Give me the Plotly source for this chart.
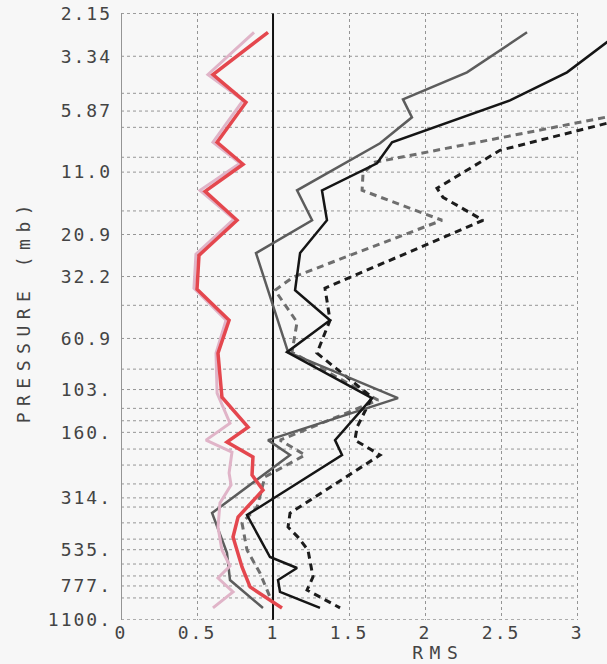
import plotly.graph_objects as go

# ---------------- data ----------------
grid_levels = [2.15, 3.34, 4.89, 5.87, 6.94, 9.44, 11.0, 16.4, 20.9, 32.2, 43.3, 60.9,
               83.5, 103, 125, 142, 160, 190, 224, 272, 314, 345, 406, 480, 535, 620,
               701, 777, 879, 1100]
ytick_vals = [2.15, 3.34, 5.87, 11.0, 20.9, 32.2, 60.9, 103, 160, 314, 535, 777, 1100]
ytick_text = ["2.15", "3.34", "5.87", "11.0", "20.9", "32.2", "60.9", "103.", "160.",
              "314.", "535.", "777.", "1100."]
xtick_vals = [0, 0.5, 1, 1.5, 2, 2.5, 3]
xtick_text = ["0", "0.5", "1", "1.5", "2", "2.5", "3"]

red_p = [2.61, 4.03, 5.37, 8.09, 10.15, 13.4, 18.05, 25.9, 36.7, 50.5, 70.8, 111.4, 151.6,
         176.8, 206.3, 248.3, 289.6, 382.3, 469.6, 639.2, 785, 974]
red_v = [0.967, 0.605, 0.822, 0.632, 0.803, 0.553, 0.763, 0.513, 0.500, 0.711, 0.638, 0.664,
         0.836, 0.697, 0.868, 0.862, 0.934, 0.770, 0.737, 0.796, 0.849, 1.059]

pink_p = [2.61, 4.03, 5.26, 8.09, 10.05, 13.27, 17.86, 25.6, 36.3, 50.5, 70.8, 106.9, 145.5,
          173.3, 196, 243, 275, 331, 424, 537, 633, 716, 826, 974]
pink_v = [0.875, 0.572, 0.803, 0.605, 0.783, 0.520, 0.743, 0.493, 0.480, 0.691, 0.625, 0.632,
          0.717, 0.559, 0.730, 0.711, 0.724, 0.651, 0.638, 0.664, 0.717, 0.638, 0.737, 0.605]

gray_p = [2.61, 3.15, 3.94, 5.20, 6.26, 8.18, 13.27, 18.05, 25.3, 70.1, 112.5, 173.3, 202,
          367, 499, 553, 731, 974]
gray_v = [2.671, 2.493, 2.276, 1.855, 1.914, 1.704, 1.158, 1.257, 0.888, 1.099, 1.822, 0.967,
          1.112, 0.599, 0.671, 0.697, 0.717, 0.934]

black_p = [2.61, 3.94, 5.26, 8.09, 10.05, 13.27, 18.05, 25.3, 37.1, 50.5, 70.1, 112.5, 173.3,
           202, 374.5, 577, 646, 731, 826, 974]
black_v = [3.283, 2.934, 2.559, 1.783, 1.684, 1.322, 1.355, 1.178, 1.145, 1.375, 1.092, 1.651,
           1.408, 1.454, 0.829, 0.980, 1.158, 1.033, 1.046, 1.309]

gdash_p = [2.61, 9.94, 11.13, 13.27, 18.05, 32.4, 37.1, 51.5, 70.1, 114.9, 173.3, 202, 253,
           345, 407, 537, 680, 870]
gdash_v = [6.05, 1.671, 1.592, 1.586, 2.112, 1.132, 1.013, 1.158, 1.125, 1.691, 1.046, 1.211,
           0.947, 0.895, 0.796, 0.829, 0.914, 0.980]

bdash_p = [2.61, 8.79, 12.99, 14.25, 18.05, 36.3, 50.5, 70.8, 111.4, 151.6, 173.3, 202, 367,
           424, 470, 537, 708, 810, 974]
bdash_v = [5.566, 2.493, 2.079, 2.118, 2.382, 1.342, 1.375, 1.289, 1.651, 1.553, 1.539, 1.704,
           1.112, 1.099, 1.164, 1.230, 1.263, 1.224, 1.441]

ref_v = [1, 1]
ref_p = [2.15, 1100]

# ---------------- figure ----------------
fig = go.Figure()

gx, gy = [], []
for lv in grid_levels:
    gx += [0, 3, None]
    gy += [lv, lv, None]
fig.add_trace(go.Scatter(x=gx, y=gy, mode="lines", hoverinfo="skip",
                         line=dict(color="#959595", width=1, dash="dot")))

fig.add_trace(go.Scatter(x=ref_v, y=ref_p, mode="lines",
                         line=dict(color="#111111", width=2)))

fig.add_trace(go.Scatter(x=gdash_v, y=gdash_p, mode="lines",
                         line=dict(color="#6e6e6e", width=3, dash="7px,5px")))
fig.add_trace(go.Scatter(x=bdash_v, y=bdash_p, mode="lines",
                         line=dict(color="#1c1c1c", width=3, dash="7px,5px")))
fig.add_trace(go.Scatter(x=gray_v, y=gray_p, mode="lines",
                         line=dict(color="#5c5c5c", width=2.5)))
fig.add_trace(go.Scatter(x=black_v, y=black_p, mode="lines",
                         line=dict(color="#151515", width=2.5)))
fig.add_trace(go.Scatter(x=pink_v, y=pink_p, mode="lines",
                         line=dict(color="#e0b4c8", width=3)))
fig.add_trace(go.Scatter(x=red_v, y=red_p, mode="lines",
                         line=dict(color="#e4474e", width=3.5)))

font = dict(family="DejaVu Sans Mono", size=18, color="#444444")

fig.update_layout(
    width=607, height=664,
    margin=dict(l=121, r=0, t=13, b=44),
    paper_bgcolor="#f7f7f7", plot_bgcolor="#f7f7f7",
    showlegend=False,
    font=font,
    xaxis=dict(range=[0, 3.197], tickvals=xtick_vals, ticktext=xtick_text,
               showgrid=True, gridcolor="#959595", griddash="dot", gridwidth=1,
               zeroline=True, zerolinecolor="#959595", zerolinewidth=1,
               ticks="", ticklabelstandoff=0, tickfont=font, showline=False),
    yaxis=dict(type="log", range=[3.0425, 0.3305], autorange=False,
               tickvals=ytick_vals, ticktext=ytick_text,
               showgrid=False, zeroline=False, ticks="", ticklabelstandoff=8,
               tickfont=font, showline=False),
    annotations=[
        dict(text="PRESSURE (mb)", xref="paper", yref="paper", x=-0.2016, y=0.509,
             xanchor="center", yanchor="middle",
             textangle=-90, showarrow=False, font=font),
        dict(text="RMS", xref="x", yref="paper", x=2.09, y=-0.053,
             xanchor="center", yanchor="middle",
             showarrow=False, font=font),
    ],
)

post = """
var s = document.createElement('style');
s.innerHTML = 'html, body {margin:0; padding:0; background:#f7f7f7; overflow:hidden;} .xtick text, .ytick text {letter-spacing: 2px;} .annotation-text {letter-spacing: 6.5px;}';
document.head.appendChild(s);
"""
fig.write_html("out.html", post_script=post, config={"displayModeBar": False})
